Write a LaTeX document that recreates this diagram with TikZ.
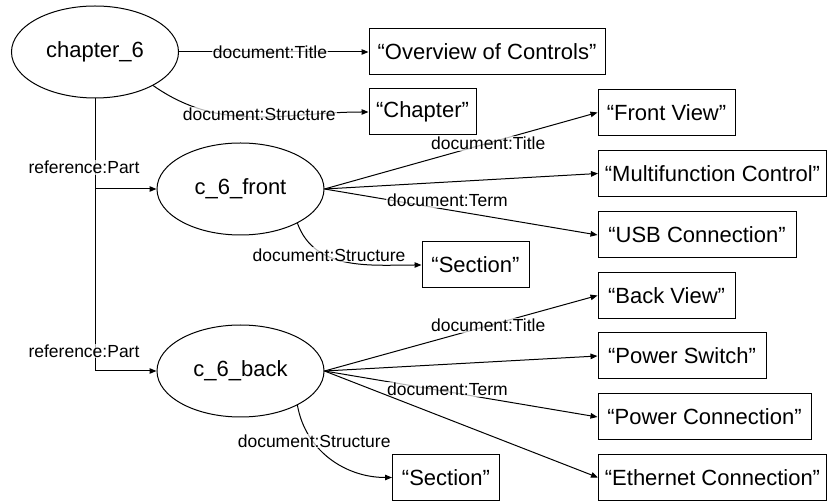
\documentclass[tikz,border=0pt]{standalone}
\usepackage{fontspec}
\setmainfont{Liberation Sans}
\usetikzlibrary{shapes.geometric,arrows.meta}
\begin{document}
\begin{tikzpicture}[x=1pt,y=1pt,
  res/.style={ellipse, draw, line width=1pt, inner sep=0pt,
    minimum width=167pt, minimum height=92pt, font=\fontsize{22}{26}\selectfont},
  lit/.style={rectangle, draw, line width=1pt, inner sep=0pt,
    minimum height=46pt, font=\fontsize{22}{26}\selectfont},
  rel/.style={line width=1pt, -{Triangle[length=7pt,width=5.5pt]}},
  trunk/.style={line width=1pt},
  lbl/.style={font=\fontsize{17.5}{20}\selectfont, fill=white,
    fill opacity=0.7, text opacity=1, inner sep=1pt}]
\useasboundingbox (0,0) rectangle (828,-502);

% resources
\node[res] (ch6) at (95,-52)    {chapter\_6};
\node[res] (c6f) at (240.5,-189) {c\_6\_front};
\node[res] (c6b) at (240.5,-371) {c\_6\_back};

% literals
\node[lit, minimum width=236pt] (ov)   at (487,-52)     {“Overview of Controls”};
\node[lit, minimum width=107pt] (chap) at (422.5,-112)  {“Chapter”};
\node[lit, minimum width=137pt] (fv)   at (666.5,-112.5){“Front View”};
\node[lit, minimum width=228pt] (mf)   at (712.5,-173.5){“Multifunction Control”};
\node[lit, minimum width=198pt] (usb)  at (697,-235)    {“USB Connection”};
\node[lit, minimum width=107pt] (secf) at (475.5,-265)  {“Section”};
\node[lit, minimum width=137pt] (bv)   at (666.5,-295.5){“Back View”};
\node[lit, minimum width=168pt] (ps)   at (682,-356)    {“Power Switch”};
\node[lit, minimum width=213pt] (pc)   at (704.5,-417)  {“Power Connection”};
\node[lit, minimum width=228pt] (eth)  at (712.5,-477.5){“Ethernet Connection”};
\node[lit, minimum width=107pt] (secb) at (446,-477.5)  {“Section”};

% chapter_6 relations
\draw[rel] (ch6.east) -- node[lbl,pos=0.48]{document:Title} (ov.west);
\draw[rel] (ch6.-30) to[out=-35,in=180]
  node[lbl,pos=0.52,yshift=3pt]{document:Structure} (chap.west);

% part-of trunk
\coordinate (jf) at (ch6.south |- c6f.west);
\coordinate (jb) at (ch6.south |- c6b.west);
\draw[trunk] (ch6.south) -- node[lbl,pos=0.76,xshift=-11pt]{reference:Part} (jf);
\draw[rel] (jf) -- (c6f.west);
\draw[rel] (jf) -- node[lbl,pos=0.89,xshift=-11pt]{reference:Part} (jb) -- (c6b.west);

% c_6_front relations
\draw[rel] (c6f.east) -- node[lbl,pos=0.6]{document:Title} (fv.west);
\draw[rel] (c6f.east) -- (mf.west);
\draw[rel] (c6f.east) -- node[lbl,pos=0.45,yshift=9pt]{document:Term} (usb.west);
\draw[rel] (c6f.-31) to[out=-70,in=180]
  node[lbl,pos=0.36,yshift=2pt]{document:Structure} (secf.west);

% c_6_back relations
\draw[rel] (c6b.east) -- node[lbl,pos=0.6]{document:Title} (bv.west);
\draw[rel] (c6b.east) -- (ps.west);
\draw[rel] (c6b.east) -- node[lbl,pos=0.45,yshift=2pt]{document:Term} (pc.west);
\draw[rel] (c6b.east) -- (eth.west);
\draw[rel] (c6b.-31) to[out=-80,in=180]
  node[lbl,pos=0.32,yshift=2pt]{document:Structure} (secb.west);
\end{tikzpicture}
\end{document}
